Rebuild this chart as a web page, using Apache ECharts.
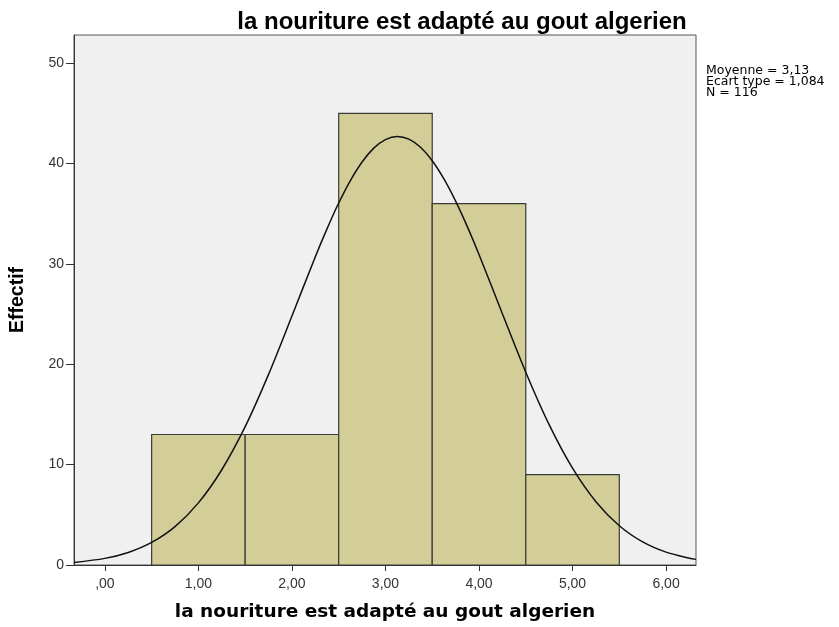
<!DOCTYPE html>
<html><head><meta charset="utf-8">
<script src="https://cdn.jsdelivr.net/npm/echarts@6/dist/echarts.min.js"></script>
<style>html,body{margin:0;padding:0;background:#fff}#c{width:839px;height:627px}</style>
</head><body><div id="c"></div>
<script>
var titleText = 'la nouriture est adapté au gout algerien';
var xAxisName = 'la nouriture est adapté au gout algerien';
var yAxisName = 'Effectif';
var statsLines = ['Moyenne = 3,13', 'Ecart type = 1,084', 'N = 116'];
var binCenters = [1, 2, 3, 4, 5];
var binCounts = [13, 13, 45, 36, 9];
var binWidth = 1;
var xTickValues = [0, 1, 2, 3, 4, 5, 6];
var xTickLabels = [',00', '1,00', '2,00', '3,00', '4,00', '5,00', '6,00'];
var yTickValues = [0, 10, 20, 30, 40, 50];
var curveX = [-0.33, 0, 0.25, 0.5, 0.75, 1, 1.25, 1.5, 1.75, 2, 2.25, 2.375, 2.5, 2.625, 2.75, 2.875, 3, 3.125, 3.25, 3.375, 3.5, 3.625, 3.75, 3.875, 4, 4.25, 4.5, 4.75, 5, 5.25, 5.5, 5.75, 6, 6.25, 6.32];
var curveY = [0.26, 0.66, 1.25, 2.25, 3.83, 6.19, 9.49, 13.78, 18.99, 24.80, 30.71, 33.49, 36.06, 38.30, 40.15, 41.53, 42.38, 42.69, 42.43, 41.61, 40.27, 38.46, 36.25, 33.71, 30.94, 25.03, 19.21, 13.98, 9.64, 6.30, 3.91, 2.30, 1.28, 0.68, 0.56];

var chart = echarts.init(document.getElementById('c'), null, {renderer: 'canvas'});
var curveData = curveX.map(function (x, i) { return [x, curveY[i]]; });
var barData = binCenters.map(function (c, i) { return [c, binCounts[i]]; });

chart.setOption({
  animation: false,
  backgroundColor: '#ffffff',
  title: {
    text: titleText,
    left: 457, top: 5, textAlign: 'center',
    textStyle: {fontFamily: 'Liberation Sans', fontWeight: 'bold', fontSize: 24, color: '#000'}
  },
  grid: {left: 73, right: 143, top: 35, bottom: 61, show: true, backgroundColor: '#f0f0f0', borderColor: '#555', borderWidth: 1},
  xAxis: {
    type: 'value', min: -0.33, max: 6.32,
    name: xAxisName, nameLocation: 'middle', nameGap: 38,
    nameTextStyle: {fontFamily: 'DejaVu Sans', fontWeight: 'bold', fontSize: 18.5, color: '#000'},
    axisLine: {show: true, onZero: false, lineStyle: {color: '#333', width: 1}},
    axisTick: {show: true, length: 6, customValues: xTickValues, lineStyle: {color: '#333'}},
    axisLabel: {customValues: xTickValues, margin: 12, fontFamily: 'Liberation Sans', fontSize: 14, color: '#333',
      formatter: function (v) { var i = xTickValues.indexOf(Math.round(v)); return i >= 0 ? xTickLabels[i] : ''; }},
    splitLine: {show: false}
  },
  yAxis: {
    type: 'value', min: 0, max: 52.8,
    name: yAxisName, nameLocation: 'middle', nameGap: 46, nameRotate: 90,
    nameTextStyle: {fontFamily: 'Liberation Sans', fontWeight: 'bold', fontSize: 19.5, color: '#000'},
    axisLine: {show: true, onZero: false, lineStyle: {color: '#333', width: 1}},
    axisTick: {show: true, length: 8, customValues: yTickValues, lineStyle: {color: '#333'}},
    axisLabel: {customValues: yTickValues, margin: 10, fontFamily: 'Liberation Sans', fontSize: 14, color: '#333'},
    splitLine: {show: false}
  },
  graphic: [{
    type: 'text', left: 706, top: 64,
    style: {text: statsLines.join('\n'), font: '12.5px "DejaVu Sans"', lineHeight: 11, fill: '#000'}
  }],
  series: [{
    type: 'custom',
    data: barData,
    renderItem: function (params, api) {
      var c = api.value(0), v = api.value(1);
      var p0 = api.coord([c - binWidth / 2, v]);
      var p1 = api.coord([c + binWidth / 2, 0]);
      return {type: 'rect', shape: {x: p0[0], y: p0[1], width: p1[0] - p0[0], height: p1[1] - p0[1]},
        style: {fill: '#d3ce98', stroke: '#3a3a3a', lineWidth: 1.2}};
    },
    z: 2
  }, {
    type: 'line', data: curveData, smooth: 0.3, showSymbol: false, symbol: 'none',
    lineStyle: {color: '#111', width: 1.5}, z: 3
  }]
});
</script></body></html>
